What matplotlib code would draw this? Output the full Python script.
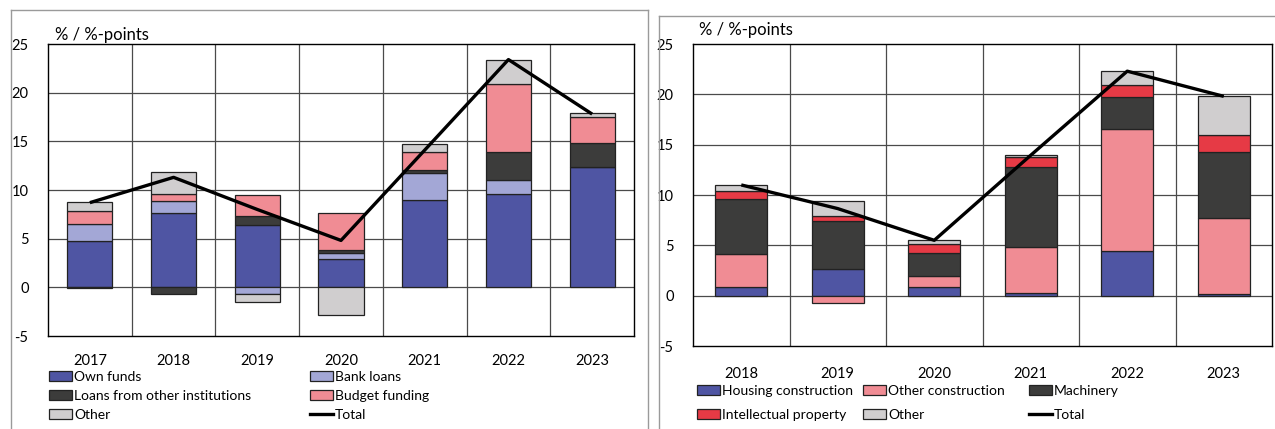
import numpy as np
import matplotlib
matplotlib.use("Agg")
import matplotlib.pyplot as plt
from matplotlib.patches import Patch
from matplotlib.lines import Line2D

plt.rcParams['font.family'] = ['Lato', 'DejaVu Sans']
plt.rcParams['font.size'] = 10
plt.rcParams['axes.unicode_minus'] = False

# ---- left panel: sources of investment financing ----
years_l = ['2017', '2018', '2019', '2020', '2021', '2022', '2023']
own_funds = [4.8, 7.66, 6.36, 2.9, 8.96, 9.57, 12.41]
bank_loans = [1.67, 1.26, -0.68, 0.62, 2.77, 1.5, 0.0]
loans_other = [-0.1, -0.65, 0.96, 0.31, 0.3, 2.84, 2.46]
budget = [1.33, 0.68, 2.2, 3.83, 1.85, 6.94, 2.67]
other_l = [1.0, 2.3, -0.86, -2.84, 0.82, 2.53, 0.37]
total_l = [8.7, 11.3, 8.0, 4.82, 14.1, 23.4, 17.8]

# ---- right panel: investment by asset type ----
years_r = ['2018', '2019', '2020', '2021', '2022', '2023']
housing = [0.9, 2.62, 0.83, 0.23, 4.41, 0.2]
other_constr = [3.28, -0.73, 1.13, 4.64, 12.17, 7.53]
machinery = [5.47, 4.84, 2.25, 7.9, 3.15, 6.56]
intellectual = [0.73, 0.46, 0.96, 0.96, 1.19, 1.63]
other_r = [0.6, 1.5, 0.37, 0.23, 1.39, 3.91]
total_r = [11.0, 8.65, 5.5, 13.95, 22.3, 19.8]

BLUE = '#4f55a3'
LBLUE = '#a3a7d6'
DARK = '#3c3c3b'
PINK = '#f08c94'
GREY = '#d0cecf'
RED = '#e63a45'
EDGE = '#222222'

W, H = 1275, 429
fig = plt.figure(figsize=(W / 100, H / 100), dpi=100)


def px_axes(left, top, right, bottom):
    return fig.add_axes([left / W, 1 - bottom / H, (right - left) / W, (bottom - top) / H])


def stacked(ax, cats, series, colors, total):
    x = np.arange(len(cats))
    pos = np.zeros(len(cats))
    neg = np.zeros(len(cats))
    for vals, c in zip(series, colors):
        v = np.array(vals, dtype=float)
        base = np.where(v >= 0, pos, neg)
        ax.bar(x, v, 0.54, bottom=base, color=c, edgecolor=EDGE, linewidth=0.9, zorder=3)
        pos = pos + np.where(v >= 0, v, 0)
        neg = neg + np.where(v < 0, v, 0)
    ax.plot(x, total, color='black', lw=2.4, zorder=4, solid_capstyle='butt')
    ax.set_xlim(-0.5, len(cats) - 0.5)
    ax.set_ylim(-5, 25)
    ax.set_yticks(range(-5, 26, 5))
    ax.set_xticks(x)
    ax.set_xticklabels(cats)
    for y in range(0, 25, 5):
        ax.axhline(y, color='#4a4a4a', lw=0.9, zorder=1)
    for b in np.arange(0.5, len(cats) - 0.5, 1):
        ax.axvline(b, color='#4a4a4a', lw=0.9, zorder=1)
    ax.tick_params(length=0, labelsize=10.5)
    for s in ax.spines.values():
        s.set_color('black')
        s.set_linewidth(1.0)


def col_legend(handles, labels, x, y, spacing):
    lg = fig.legend(handles, labels, loc='upper left', bbox_to_anchor=(x / W, 1 - y / H),
                    frameon=False, borderpad=0, borderaxespad=0, handlelength=1.65,
                    handleheight=0.65, handletextpad=0.15, labelspacing=spacing,
                    fontsize=10)
    return lg


def patch(c):
    return Patch(facecolor=c, edgecolor=EDGE, linewidth=0.9)


tot_handle = Line2D([], [], color='black', lw=2.4)

# left
axl = px_axes(48, 44, 634, 336)
stacked(axl, years_l, [own_funds, bank_loans, loans_other, budget, other_l],
        [BLUE, LBLUE, DARK, PINK, GREY], total_l)
axl.tick_params(axis='y', pad=14)
axl.tick_params(axis='x', pad=13)
fig.text(55 / W, 1 - 35 / H, '% / %-points', fontsize=12, va='center')

col_legend([patch(BLUE), patch(DARK), patch(GREY)],
           ['Own funds', 'Loans from other institutions', 'Other'], 49, 371, 0.5)
col_legend([patch(LBLUE), patch(PINK), tot_handle],
           ['Bank loans', 'Budget funding', 'Total'], 310, 371, 0.5)

# right
axr = px_axes(693, 44, 1272, 346)
stacked(axr, years_r, [housing, other_constr, machinery, intellectual, other_r],
        [BLUE, PINK, DARK, RED, GREY], total_r)
axr.tick_params(axis='y', pad=14)
axr.tick_params(axis='x', pad=15)
fig.text(699 / W, 1 - 30 / H, '% / %-points', fontsize=12, va='center')

col_legend([patch(BLUE), patch(RED)], ['Housing construction', 'Intellectual property'], 697, 385, 0.85)
col_legend([patch(PINK), patch(GREY)], ['Other construction', 'Other'], 863, 385, 0.85)
col_legend([patch(DARK), tot_handle], ['Machinery', 'Total'], 1029, 385, 0.85)

# panel frames
fc = '#9a9a9a'
for xs, ys in [([11, 11], [10, 429]), ([11, 648], [10, 10]), ([648, 648], [10, 429]),
               ([659, 659], [16, 429]), ([659, 1275], [16, 16])]:
    fig.add_artist(Line2D([x / W for x in xs], [1 - y / H for y in ys], color=fc, lw=1.0))

fig.savefig('out.png', dpi=100)
